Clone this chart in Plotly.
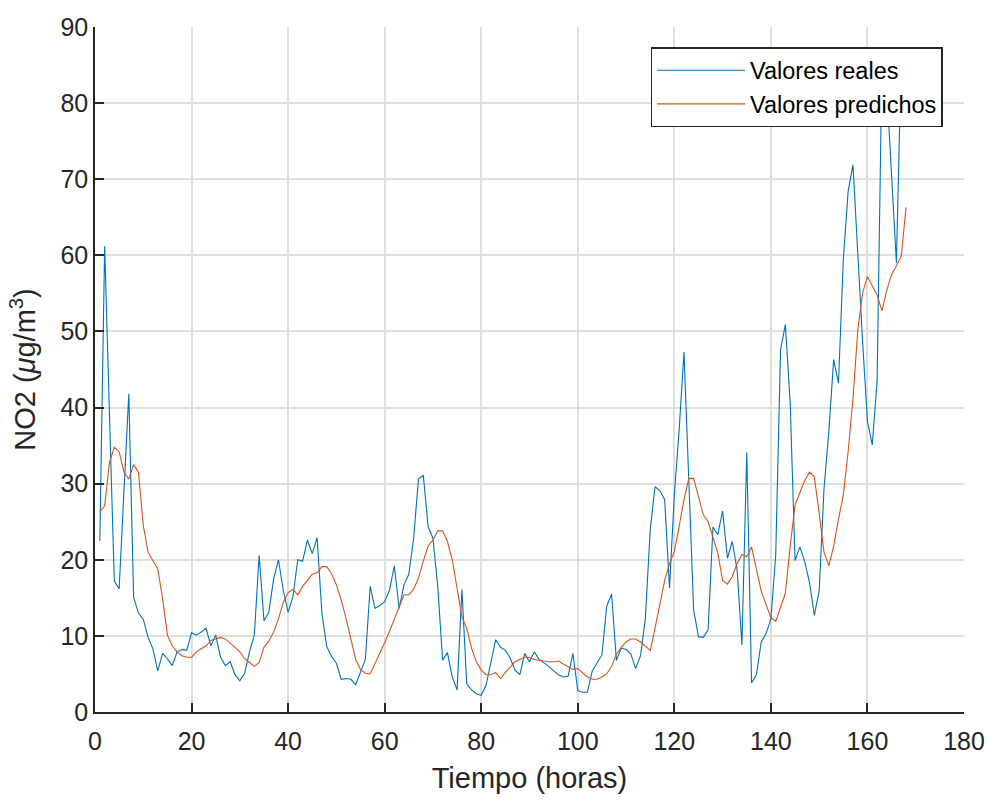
import plotly.graph_objects as go

hours = list(range(1, 169))

valores_reales = [
    22.5, 61.2, 39.0, 17.2, 16.2, 29.0, 41.8, 15.1, 13.0, 12.2,
    9.8, 8.3, 5.4, 7.7, 7.0, 6.1, 7.9, 8.2, 8.1, 10.4,
    10.1, 10.5, 11.0, 8.7, 10.1, 7.2, 6.1, 6.6, 4.9, 4.1,
    5.1, 7.9, 10.1, 20.6, 12.0, 13.1, 17.5, 20.0, 16.0, 13.1,
    15.2, 20.0, 19.8, 22.6, 20.8, 22.9, 13.0, 8.6, 7.3, 6.4,
    4.3, 4.4, 4.3, 3.6, 5.3, 6.9, 16.5, 13.6, 14.0, 14.5,
    16.0, 19.2, 13.6, 16.7, 18.1, 22.8, 30.6, 31.1, 24.4, 22.8,
    16.5, 6.8, 7.8, 4.6, 2.9, 16.1, 3.7, 2.9, 2.4, 2.2,
    3.5, 6.4, 9.5, 8.5, 8.1, 7.1, 5.5, 4.9, 7.7, 6.6,
    7.9, 6.9, 6.5, 6.0, 5.4, 4.9, 4.6, 4.7, 7.7, 2.8,
    2.6, 2.6, 5.4, 6.5, 7.5, 13.9, 15.5, 6.8, 8.4, 8.2,
    7.6, 5.7, 7.4, 12.3, 23.9, 29.6, 29.1, 27.9, 16.3, 28.5,
    37.1, 47.3, 31.4, 13.4, 9.9, 9.8, 10.8, 24.3, 23.3, 26.4,
    20.2, 22.4, 18.7, 8.8, 34.1, 3.8, 4.9, 9.2, 10.3, 12.2,
    20.6, 47.6, 50.9, 40.6, 19.9, 21.7, 19.8, 17.0, 12.7, 15.9,
    29.3, 36.8, 46.3, 43.2, 59.4, 68.4, 71.9, 59.4, 48.6, 38.2,
    35.1, 43.5, 85.0, 82.0, 70.0, 59.0, 86.0, 77.4,
]

valores_predichos = [
    26.3, 27.1, 32.8, 34.8, 34.2, 31.5, 30.6, 32.5, 31.5, 24.5,
    21.0, 19.9, 18.8, 14.9, 10.1, 8.7, 7.9, 7.4, 7.2, 7.2,
    7.9, 8.3, 8.7, 9.4, 9.6, 9.8, 9.6, 9.1, 8.5, 7.9,
    7.0, 6.5, 6.0, 6.5, 8.5, 9.3, 10.5, 12.2, 14.4, 15.7,
    16.1, 15.4, 16.5, 17.3, 18.1, 18.3, 19.1, 19.1, 18.2, 16.7,
    14.7, 12.3, 9.7, 6.9, 5.6, 5.1, 5.0, 6.3, 7.6, 9.1,
    10.6, 12.3, 13.8, 15.4, 15.4, 16.1, 17.6, 19.8, 21.8, 22.6,
    23.8, 23.8, 22.4, 20.0, 16.5, 12.5, 11.0, 8.4, 6.6, 5.5,
    4.9, 4.9, 5.2, 4.4, 5.2, 5.9, 6.6, 6.9, 7.2, 7.2,
    6.9, 6.8, 6.7, 6.6, 6.6, 6.7, 6.3, 6.0, 5.6, 5.7,
    5.2, 4.6, 4.3, 4.3, 4.6, 5.0, 6.0, 7.6, 8.5, 9.2,
    9.6, 9.6, 9.2, 8.7, 8.1, 11.0, 14.3, 17.3, 19.5, 21.1,
    24.4, 27.9, 30.7, 30.7, 28.3, 25.9, 25.0, 22.8, 20.9, 17.3,
    16.8, 17.8, 19.5, 20.7, 20.4, 21.7, 18.9, 15.9, 14.1, 12.4,
    11.9, 13.7, 15.6, 21.8, 27.2, 28.8, 30.4, 31.5, 30.9, 26.1,
    21.0, 19.2, 21.8, 25.3, 28.5, 34.2, 41.1, 50.2, 55.1, 57.2,
    55.9, 54.8, 52.7, 55.4, 57.5, 58.6, 59.9, 66.3,
]

x_ticks = [0, 20, 40, 60, 80, 100, 120, 140, 160, 180]
y_ticks = [0, 10, 20, 30, 40, 50, 60, 70, 80, 90]

FONT = "Liberation Sans, Arial, sans-serif"
AX = "#262626"
GRID = "#dfdfdf"

fig = go.Figure()
fig.add_trace(go.Scatter(x=hours, y=valores_reales, mode="lines",
                         name="Valores reales",
                         line=dict(color="#0072BD", width=1.1)))
fig.add_trace(go.Scatter(x=hours, y=valores_predichos, mode="lines",
                         name="Valores predichos",
                         line=dict(color="#D95319", width=1.1)))

fig.update_layout(
    width=993, height=809,
    margin=dict(l=95, r=29, t=27, b=97, autoexpand=False),
    paper_bgcolor="white", plot_bgcolor="white",
    font=dict(family=FONT, color=AX, size=25),
    showlegend=True,
    legend=dict(
        x=0.9755, y=0.9705, xanchor="right", yanchor="top",
        bgcolor="white", bordercolor="#262626", borderwidth=1.3,
        font=dict(family=FONT, size=23.5, color="black"),
        itemwidth=88, tracegroupgap=0,
    ),
    xaxis=dict(
        range=[0, 180], tickvals=x_ticks, ticktext=[str(t) for t in x_ticks],
        showgrid=True, gridcolor=GRID, gridwidth=1.5,
        showline=True, linecolor=AX, linewidth=1.5,
        ticks="inside", ticklen=9, tickwidth=1.5, tickcolor=AX,
        zeroline=False, mirror=False, automargin=False,
        tickfont=dict(size=25, color=AX), ticklabelstandoff=6,
        title=dict(text="Tiempo (horas)", font=dict(size=29, color=AX), standoff=14),
    ),
    yaxis=dict(
        range=[0, 90], tickvals=y_ticks, ticktext=[str(t) for t in y_ticks],
        showgrid=True, gridcolor=GRID, gridwidth=1.5,
        showline=True, linecolor=AX, linewidth=1.5,
        ticks="inside", ticklen=9, tickwidth=1.5, tickcolor=AX,
        zeroline=False, mirror=False, automargin=False,
        tickfont=dict(size=25, color=AX),
        title=dict(text="NO2 (<i>μ</i>g/m<sup>3</sup>)", font=dict(size=29, color=AX), standoff=16),
    ),
)

fig.write_html("out.html")
